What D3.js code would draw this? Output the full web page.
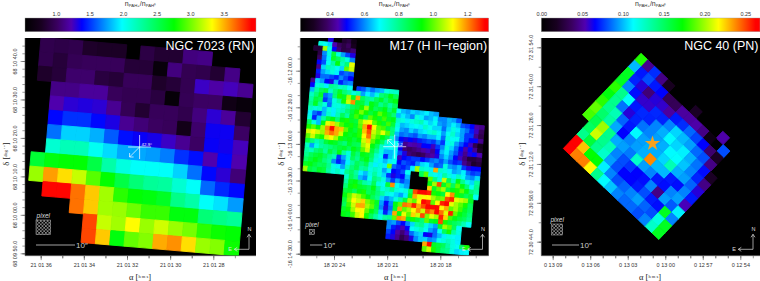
<!DOCTYPE html>
<html>
<head>
<meta charset="utf-8">
<script src="https://cdn.jsdelivr.net/npm/d3@7"></script>
<style>
  html, body { margin: 0; padding: 0; background: #fff; }
  svg { display: block; }
  text { font-family: "Liberation Sans", Arial, sans-serif; }
  .axis text { fill: #333; font-size: 5.5px; }
  .axis line { stroke: #555; stroke-width: 0.6; }
  .axis path { stroke: #555; stroke-width: 0.6; fill: none; }
</style>
</head>
<body>
<div id="chart"></div>
<script>
// colour table of the ratio maps, position along the bar -> colour
var colorStops = [0, 0.07, 0.14, 0.20, 0.246, 0.42, 0.645, 0.81, 0.98, 1];
var colorHex = ["#000000", "#180020", "#3a0060", "#5000b0", "#0000ff", "#00ffff", "#00ff00", "#ffff00", "#ff0000", "#ff0000"];

// NGC 7023, n(PAH+)/n(PAH0), 0 = no data. one row per detector row, top to bottom
var ngc7023Rows = [
  [0.95,0.93,0.95,0.82,0.8,0.8,0,0.92,0.85,0.85,1.1,1.12],
  [0.95,0.88,0.98,1.0,1.0,1.0,0.87,0.87,0.62,1.1,0.97,0.95,0.85,1.12,0],
  [0.82,0.88,1.05,1.05,0.9,0.87,1.0,1.0,0.82,0.87,0.97,1.27,1.2,1.25,1.15],
  [0,1.12,1.12,1.17,1.17,1.0,0.97,0.97,0.9,0.6,0.98,1.03,1.03,0.7,0.62],
  [0,1.22,1.3,1.32,1.3,1.15,0.98,0.85,1.0,1.0,0.95,1.1,1.3,1.17,0.85],
  [0,1.4,1.5,1.5,1.4,1.33,1.15,1.08,1.02,1.0,0.72,1.05,1.36,1.36,1.03],
  [0,1.65,1.88,1.88,1.8,1.6,1.42,1.37,1.34,1.27,1.15,1.03,1.37,1.35,1.25],
  [0,2.12,2.2,2.2,2.02,1.9,1.78,1.78,1.75,1.68,1.5,1.42,1.22,1.4,1.22],
  [2.6,2.72,2.75,2.75,2.55,2.25,2.08,2.0,2.0,2.0,1.88,1.65,1.4,1.3,1.08],
  [3.1,3.55,3.4,3.2,2.95,2.76,2.55,2.4,2.3,2.28,2.12,2.0,1.63,1.48,1.4],
  [0,3.9,3.9,3.65,3.45,3.12,2.85,2.75,2.72,2.65,2.35,2.25,2.0,1.92,1.75],
  [0,0,0,3.65,3.45,3.12,3.1,3.0,2.88,2.88,2.72,2.72,2.4,2.35,2.3],
  [0,0,0,0,3.75,3.2,3.12,3.33,3.1,3.22,3.1,3.02,2.85,2.78,2.75],
  [0,0,0,0,3.75,3.45,2.72,2.98,3.05,3.52,3.58,3.4,3.1,3.05,2.78]
];

// M17, ratio x 100, 0 = no data. m17RowStart is the first column of each row
var m17RowStart = [3,1,0,1,1,1,1,1,1,0,0,0,0,0,0,0,0,0,0,0,0,0,0,0,0,0,0,0,0,9,9,9,9,9,9,9,9,9,19,19,19,19,27,27];
var m17Rows = [
  [48,0,0,33,35,28],
  [72,70,66,45,38,35,38,30],
  [33,33,105,72,50,40,35,36,40],
  [35,60,72,88,72,62,55,48],
  [38,58,68,90,85,78,72,60],
  [50,56,70,78,92,75,82,110],
  [42,66,76,74,70,66,100,108],
  [52,62,66,72,68,55,58,56],
  [48,58,58,55,52,60,55,50],
  [42,66,62,50,48,64,52,58,60],
  [50,72,74,68,80,78,74,76,70,0,54,56,62,58,62,64,72,74,74],
  [64,78,85,88,74,82,90,82,78,72,76,62,68,64,72,82,85,92,85],
  [75,82,90,58,62,82,95,90,105,90,118,85,80,78,85,90,82,88,92],
  [78,88,85,54,60,72,78,95,108,120,90,88,80,92,88,80,85,78,85],
  [80,90,78,72,58,72,72,74,78,85,88,95,105,92,85,88,92,82,90,70,64,62,66,64,66,68,64,62],
  [75,72,74,64,72,68,74,76,82,88,95,102,95,88,92,100,95,88,82,64,68,64,60,72,68,62,64,68,60,60,64,62,56],
  [68,58,54,64,74,68,76,85,78,90,98,92,85,100,95,90,98,90,92,74,72,68,72,74,76,70,66,70,62,60,64,68,64,56,54,50,44,42],
  [72,52,64,78,88,92,82,92,95,90,88,102,110,112,100,95,90,98,88,72,64,66,68,70,68,74,70,66,66,58,66,72,68,62,58,52,46,38],
  [85,72,64,92,110,115,105,98,92,95,90,100,118,130,112,100,98,88,82,70,62,60,66,62,66,68,72,74,70,62,70,74,66,62,54,54,42,36],
  [95,100,92,105,120,130,118,116,100,92,88,96,116,125,108,102,110,100,82,64,58,60,58,56,62,60,64,64,68,58,72,70,70,62,54,50,50,42],
  [108,112,108,104,118,122,118,108,94,90,92,96,112,122,105,98,92,85,74,60,50,48,50,48,52,54,56,54,60,54,68,72,62,56,50,46,36,30],
  [100,108,98,95,108,112,105,95,90,92,88,92,108,115,100,92,85,74,70,70,55,42,45,44,46,50,50,46,54,60,72,66,58,50,44,50,42,32],
  [88,82,76,80,88,92,90,85,82,90,86,85,105,110,92,85,74,68,70,72,50,40,38,40,42,44,46,42,50,64,68,62,56,48,42,48,50,45],
  [75,62,72,78,80,82,85,88,90,85,92,88,100,108,88,80,72,64,64,68,56,48,40,38,36,38,42,44,48,60,66,60,50,46,40,34,34,36],
  [78,75,82,85,78,88,82,92,78,72,88,82,92,90,85,74,70,52,64,70,46,50,52,54,54,50,54,58,60,56,62,56,52,54,42,38,32,34],
  [80,85,88,90,85,80,76,54,62,72,85,80,88,92,82,72,68,64,68,70,50,56,54,52,60,66,68,62,56,58,72,62,60,64,54,48,50,50],
  [84,88,92,88,82,78,60,52,58,68,78,85,82,86,74,68,72,68,102,58,54,52,56,68,105,74,72,68,118,74,72,68,62,64,68,58,54,56],
  [90,92,88,85,86,80,72,68,62,75,82,86,78,80,72,75,72,62,68,50,52,56,70,0,0,85,100,72,70,68,78,72,68,75,70,62,60,66],
  [105,88,85,90,88,78,72,75,70,80,84,78,68,64,72,78,72,66,54,48,52,50,64,0,0,0,0,100,80,72,108,85,75,92,80,72,66,78],
  [74,85,80,64,60,70,82,78,72,62,54,62,55,60,0,0,0,0,92,105,125,90,100,85,100,92,82,70,80],
  [78,90,92,85,78,75,85,72,70,88,120,70,66,62,0,0,0,0,115,90,100,105,88,92,95,100,92,82,78],
  [82,92,95,90,88,85,92,80,72,75,80,72,70,72,85,125,130,130,128,95,92,88,112,120,95,90,85,88,70],
  [88,90,85,92,95,85,88,82,78,72,70,66,62,68,90,118,110,112,112,105,100,102,125,128,110,108,105,90],
  [92,100,108,105,98,92,85,80,66,60,64,72,78,88,105,100,112,130,128,100,112,128,130,110,105,100,95,85],
  [88,102,112,108,115,102,98,90,62,50,60,92,100,122,120,128,118,125,130,130,130,112,118,100,105,98,90,85],
  [85,98,108,118,118,105,100,88,60,48,58,90,118,100,105,112,120,108,125,120,130,122,110,128,100,92,88,82],
  [90,95,105,112,112,100,92,85,66,52,62,118,92,110,100,115,108,125,102,110,105,128,115,98,92,88,85,80],
  [92,90,98,108,112,95,85,78,72,78,80,100,120,118,90,95,88,82,100,90,92,125,95,88,85,82,76,70],
  [60,62,55,50,60,66,78,80,72,66,62,90,105,100,85,70],
  [60,52,48,45,50,70,72,75,70,62,58,70,85,95,78,72],
  [55,50,44,40,46,58,64,66,50,48,58,64,68,72,70,68],
  [52,48,42,36,40,48,60,65,66,60,62,70,72,75,72,68],
  [118,130,90,88,85,78,72,70,85,95],
  [100,108,95,88,82,80,72,66,68,69]
];

// NGC 40, 0 = no data. rows run along the south-east edge of the diamond
var ngc40Rows = [
  [0.178,0.047,0.074,0.045,0.018,0,0,0,0.02,0,0,0,0.052],
  [0.100,0.07,0.08,0.07,0.066,0.035,0.035,0.05,0.05,0.052,0.045,0.01,0,0.08],
  [0.165,0.072,0.06,0.042,0.06,0.058,0.05,0.07,0.074,0.085,0.078,0.066,0.04,0.02],
  [0.165,0.09,0.068,0.058,0.058,0.073,0.072,0.09,0.105,0.1,0.095,0.085,0.08,0.045],
  [0.18,0.14,0.113,0.07,0.073,0.072,0.09,0.098,0.112,0.105,0.11,0.098,0.087,0.068,0.02],
  [0.17,0.14,0.087,0.06,0.072,0.087,0.09,0.095,0.098,0.112,0.113,0.102,0.09,0.072,0.045],
  [0.18,0.14,0.13,0.084,0.07,0.112,0.095,0.098,0.098,0.105,0.13,0.098,0.095,0.084,0.06],
  [0.19,0.148,0.135,0.097,0.066,0.09,0.095,0.098,0.238,0.1,0.1,0.07,0.068,0.09,0.07],
  [0.185,0.155,0.2,0.14,0.097,0.095,0.088,0.125,0.095,0.09,0.07,0.068,0.09,0.095,0.055],
  [0,0.15,0.208,0.14,0.13,0.09,0.08,0.075,0.066,0.068,0.09,0.045,0.095,0.082,0.11],
  [0,0.14,0.16,0.14,0.125,0.095,0.08,0.066,0.066,0.07,0.08,0.07,0.068,0.165,0.09],
  [0,0.263,0.228,0.173,0.172,0.11,0.09,0.08,0.084,0.09,0.095,0.084,0.08,0.12,0.165],
  [0,0.263,0.24,0.24,0.218,0.14,0.112,0.102,0.09,0.085,0.085,0.08,0.09,0.125,0.165]
];

// colour bar ticks
var ngc7023BarTicks = [1.0, 1.5, 2.0, 2.5, 3.0, 3.5];
var m17BarTicks = [0.4, 0.6, 0.8, 1.0, 1.2];
var ngc40BarTicks = [0.00, 0.05, 0.10, 0.15, 0.20, 0.25];

// right ascension ticks, seconds of the label minute
var ngc7023RaTicks = [36, 34, 32, 30, 28];
var ngc7023RaLabels = ["21 01 36", "21 01 34", "21 01 32", "21 01 30", "21 01 28"];
var m17RaTicks = [24, 21, 18];
var m17RaLabels = ["18 20 24", "18 20 21", "18 20 18"];
var ngc40RaTicks = [9, 6, 3, 0, -3, -6];
var ngc40RaLabels = ["0 13 09", "0 13 06", "0 13 03", "0 13 00", "0 12 57", "0 12 54"];

// declination ticks, arc seconds
var ngc7023DecTicks = [40, 30, 20, 10, 0, -10];
var ngc7023DecLabels = ["68 10 40.0", "68 10 30.0", "68 10 20.0", "68 10 10.0", "68 10 00.0", "68 09 50.0"];
var m17DecTicks = [0, -30, -60, -90, -120, -150];
var m17DecLabels = ["-16 12 00.0", "-16 12 30.0", "-16 13 00.0", "-16 13 30.0", "-16 14 00.0", "-16 14 30.0"];
var ngc40DecTicks = [54, 40, 26, 12, -2, -16];
var ngc40DecLabels = ["72 31 54.0", "72 31 40.0", "72 31 26.0", "72 31 12.0", "72 30 58.0", "72 30 44.0"];

var width = 760, height = 281,
    frameTop = 38, frameBottom = 255.7,
    barTop = 18, barHeight = 13.7;

var svg = d3.select("#chart").append("svg")
    .attr("width", width)
    .attr("height", height);

var defs = svg.append("defs");

var gradient = defs.append("linearGradient").attr("id", "barColors");
gradient.selectAll("stop")
    .data(colorStops)
    .enter().append("stop")
      .attr("offset", function(d) { return d; })
      .attr("stop-color", function(d, i) { return colorHex[i]; });

var hatch = defs.append("pattern")
    .attr("id", "pixelHatch")
    .attr("width", 3.4).attr("height", 3.4)
    .attr("patternUnits", "userSpaceOnUse");
hatch.append("path")
    .attr("d", "M0,0L3.4,3.4M3.4,0L0,3.4")
    .attr("stroke", "#bbb")
    .attr("stroke-width", 0.6);

var ratioColor = d3.scaleLinear().domain(colorStops).range(colorHex);

function drawPanel(p) {
  var g = svg.append("g");

  // colour bar
  var barScale = d3.scaleLinear().domain(p.barDomain).range([p.left, p.right]);
  g.append("rect")
      .attr("x", p.left).attr("y", barTop)
      .attr("width", p.right - p.left).attr("height", barHeight)
      .attr("fill", "url(#barColors)")
      .attr("stroke", "#999").attr("stroke-width", 0.4);

  var barAxis = g.append("g")
      .attr("class", "axis")
      .attr("transform", "translate(0," + barTop + ")")
      .call(d3.axisTop(barScale).tickValues(p.barTicks).tickSize(0).tickPadding(2).tickFormat(d3.format(p.barFormat)));
  barAxis.select(".domain").remove();

  var barTitle = g.append("text")
      .attr("x", (p.left + p.right) / 2)
      .attr("y", 5.5)
      .attr("text-anchor", "middle")
      .style("font-size", "7px")
      .style("fill", "#333");
  barTitle.append("tspan").text("n");
  barTitle.append("tspan").attr("dy", 1.2).style("font-size", "4.3px").text("PAH+");
  barTitle.append("tspan").attr("dy", -1.2).text("/n");
  barTitle.append("tspan").attr("dy", 1.2).style("font-size", "4.3px").text("PAH\u2070");

  // map frame
  var clipId = "clip" + p.id;
  defs.append("clipPath").attr("id", clipId).append("rect")
      .attr("x", p.left).attr("y", frameTop)
      .attr("width", p.right - p.left).attr("height", frameBottom - frameTop);

  g.append("rect")
      .attr("x", p.left).attr("y", frameTop)
      .attr("width", p.right - p.left).attr("height", frameBottom - frameTop)
      .attr("fill", "#000");

  // cells, in the rotated frame of the spectrograph
  var cells = [];
  p.rows.forEach(function(row, r) {
    var start = p.rowStart ? p.rowStart[r] : 0;
    row.forEach(function(v, c) {
      if (v > 0) cells.push({ col: start + c, row: r, value: v * p.unit });
    });
  });

  var colCount = d3.max(cells, function(d) { return d.col; }) + 1,
      rowCount = p.rows.length;
  var cellX = d3.scaleLinear().domain([0, colCount]).range([0, colCount * p.cell]),
      cellY = d3.scaleLinear().domain([0, rowCount]).range([0, rowCount * p.cell]);
  var barPos = d3.scaleLinear().domain(p.barDomain).range([0, 1]);

  var map = g.append("g")
      .attr("clip-path", "url(#" + clipId + ")")
    .append("g")
      .attr("transform", "translate(" + p.origin + ") rotate(" + p.angle + ")");

  map.selectAll("rect")
      .data(cells)
      .enter().append("rect")
        .attr("x", function(d) { return cellX(d.col); })
        .attr("y", function(d) { return cellY(d.row); })
        .attr("width", p.cell)
        .attr("height", p.cell)
        .attr("fill", function(d) { return ratioColor(barPos(d.value)); })
        .attr("stroke", function(d) { return ratioColor(barPos(d.value)); })
        .attr("stroke-width", 0.9);

  // axes
  var raScale = d3.scaleLinear().domain(p.raDomain).range(p.raRange);
  var decScale = d3.scaleLinear().domain(p.decDomain).range(p.decRange);

  var decMinor = d3.range(d3.min(p.decTicks), decScale.invert(frameTop), p.decStep)
      .concat(d3.range(d3.min(p.decTicks), decScale.invert(frameBottom), -p.decStep));
  var raMinor = p.raTicks.flatMap(function(t) {
    return d3.range(t + p.raMajor, t - p.raMajor, -p.raStep);
  }).filter(function(t) { return raScale(t) > p.left && raScale(t) < p.right; });

  g.append("g")
      .attr("class", "axis")
      .attr("transform", "translate(0," + frameBottom + ")")
      .call(d3.axisBottom(raScale).tickValues(raMinor).tickSize(2.6).tickFormat(""))
      .select(".domain").attr("d", "M" + p.left + ",0H" + p.right);

  g.append("g")
      .attr("class", "axis")
      .attr("transform", "translate(0," + frameBottom + ")")
      .call(d3.axisBottom(raScale).tickValues(p.raTicks).tickSize(4.4).tickPadding(3)
        .tickFormat(function(d, i) { return p.raLabels[i]; }))
      .select(".domain").remove();

  g.append("g")
      .attr("class", "axis")
      .attr("transform", "translate(" + p.left + ",0)")
      .call(d3.axisLeft(decScale).tickValues(decMinor.filter(function(t) {
        return decScale(t) >= frameTop && decScale(t) <= frameBottom;
      })).tickSize(2.6).tickFormat(""))
      .select(".domain").attr("d", "M0," + frameTop + "V" + frameBottom);

  var decAxis = g.append("g")
      .attr("class", "axis")
      .attr("transform", "translate(" + p.left + ",0)")
      .call(d3.axisLeft(decScale).tickValues(p.decTicks).tickSize(4.4)
        .tickFormat(function(d, i) { return p.decLabels[i]; }));
  decAxis.select(".domain").remove();
  decAxis.selectAll("text")
      .attr("transform", "rotate(-90)")
      .attr("x", 0)
      .attr("y", -8)
      .attr("dy", 0)
      .style("text-anchor", "middle");

  // axis titles
  var raTitle = g.append("text")
      .attr("x", p.raTitleX).attr("y", 279.5)
      .attr("text-anchor", "middle")
      .style("font-family", "'Liberation Serif', serif")
      .style("font-size", "8.5px")
      .style("fill", "#222");
  raTitle.append("tspan").text("\u03b1 [");
  raTitle.append("tspan").attr("dy", -2).style("font-size", "4.5px").text("h m s");
  raTitle.append("tspan").attr("dy", 2).text("]");

  var decTitle = g.append("text")
      .attr("transform", "translate(" + p.decTitleX + ",154) rotate(-90)")
      .attr("text-anchor", "middle")
      .style("font-family", "'Liberation Serif', serif")
      .style("font-size", "8.5px")
      .style("fill", "#222");
  decTitle.append("tspan").text("\u03b4 [");
  decTitle.append("tspan").attr("dy", -2).style("font-size", "4.5px").text("deg \u2032 \u2033");
  decTitle.append("tspan").attr("dy", 2).text("]");

  // object name
  g.append("text")
      .attr("x", p.right - 1.5)
      .attr("y", 50)
      .attr("text-anchor", "end")
      .style("font-size", "12.5px")
      .style("fill", "#fff")
      .text(p.title);

  // pixel symbol
  g.append("text")
      .attr("x", p.pixelX + p.pixelSize / 2)
      .attr("y", p.pixelY - 2.5)
      .attr("text-anchor", "middle")
      .style("font-size", "6.5px")
      .style("font-style", "italic")
      .style("fill", "#ddd")
      .text("pixel");
  g.append("rect")
      .attr("x", p.pixelX).attr("y", p.pixelY)
      .attr("width", p.pixelSize).attr("height", p.pixelSize)
      .attr("fill", "url(#pixelHatch)")
      .attr("stroke", "#bbb")
      .attr("stroke-width", 0.5);

  // 10 arc second bar
  g.append("line")
      .attr("x1", p.scaleBar[0]).attr("x2", p.scaleBar[1])
      .attr("y1", 245).attr("y2", 245)
      .attr("stroke", "#ccc").attr("stroke-width", 0.8);
  g.append("text")
      .attr("x", p.scaleBar[1] + 1)
      .attr("y", 248)
      .style("font-size", "8px")
      .style("fill", "#ccc")
      .text("10\u2033");

  // north and east
  var cx = p.compassX, cy = 249.3;
  g.append("path")
      .attr("d", "M" + (cx - 14.7) + "," + cy + "H" + cx + "V" + (cy - 15) +
        "M" + (cx - 2) + "," + (cy - 12) + "L" + cx + "," + (cy - 15) + "L" + (cx + 2) + "," + (cy - 12) +
        "M" + (cx - 11.7) + "," + (cy - 2) + "L" + (cx - 14.7) + "," + cy + "L" + (cx - 11.7) + "," + (cy + 2))
      .attr("fill", "none")
      .attr("stroke", "#ddd")
      .attr("stroke-width", 0.7);
  g.append("text").attr("x", cx + 0.5).attr("y", 231).attr("text-anchor", "middle")
      .style("font-size", "5.5px").style("fill", "#ddd").text("N");
  g.append("text").attr("x", cx - 19).attr("y", 251).attr("text-anchor", "middle")
      .style("font-size", "5.5px").style("fill", "#ddd").text("E");

  // slit direction cross
  if (p.cross) {
    var c = p.cross;
    g.append("path")
        .attr("d", "M" + c.x + "," + (c.y - 12) + "V" + (c.y + 12) +
          "M" + (c.x - 11.5) + "," + c.y + "H" + (c.x + 11.5) +
          "M" + c.x + "," + c.y + "L" + (c.x + c.dx) + "," + (c.y + c.dy))
        .attr("fill", "none")
        .attr("stroke", "#fff")
        .attr("stroke-width", 0.7);
    var ax = c.x + c.dx, ay = c.y + c.dy, sx = c.dx > 0 ? 1 : -1, sy = c.dy > 0 ? 1 : -1;
    g.append("path")
        .attr("d", "M" + (ax - sx * 4) + "," + ay + "L" + ax + "," + ay + "L" + ax + "," + (ay - sy * 4))
        .attr("fill", "none")
        .attr("stroke", "#fff")
        .attr("stroke-width", 0.7);
    g.append("text")
        .attr("x", c.x + 2)
        .attr("y", c.y - 1)
        .style("font-size", "4.4px")
        .style("fill", "#fff")
        .text(c.label);
  }

  if (p.star) {
    g.append("path")
        .attr("transform", "translate(" + p.star + ")")
        .attr("d", d3.symbol(d3.symbolStar, 72))
        .attr("fill", "#f7a11e");
  }
}

drawPanel({
  id: 1, title: "NGC 7023 (RN)",
  left: 25, right: 256,
  barDomain: [0.54, 3.98], barTicks: ngc7023BarTicks, barFormat: ".1f",
  rows: ngc7023Rows, unit: 1, cell: 14.35, angle: 4.9, origin: [41, 37.4],
  raDomain: [36, 28], raRange: [40.7, 213.3], raTicks: ngc7023RaTicks, raLabels: ngc7023RaLabels, raStep: 1, raMajor: 2,
  decDomain: [40, -10], decRange: [61, 253.3], decTicks: ngc7023DecTicks, decLabels: ngc7023DecLabels, decStep: 2,
  raTitleX: 140, decTitleX: 9,
  pixelX: 36, pixelY: 220, pixelSize: 14.6, scaleBar: [36, 75], compassX: 249,
  cross: { x: 139.6, y: 147, dx: -10, dy: 10, label: "42.9\u00b0" }
});

drawPanel({
  id: 2, title: "M17 (H II\u2212region)",
  left: 300.3, right: 488.7,
  barDomain: [0.23, 1.325], barTicks: m17BarTicks, barFormat: ".1f",
  rows: m17Rows, rowStart: m17RowStart, unit: 0.01, cell: 4.65, angle: 5, origin: [314.8, 36.3],
  raDomain: [24, 18], raRange: [334, 440.3], raTicks: m17RaTicks, raLabels: m17RaLabels, raStep: 1, raMajor: 3,
  decDomain: [0, -150], decRange: [70.7, 253.7], decTicks: m17DecTicks, decLabels: m17DecLabels, decStep: 10,
  raTitleX: 395, decTitleX: 284,
  pixelX: 309.5, pixelY: 229.5, pixelSize: 5, scaleBar: [310, 322.3], compassX: 482.5,
  cross: { x: 394.7, y: 146.7, dx: -7, dy: -7, label: "3.2" }
});

drawPanel({
  id: 3, title: "NGC 40 (PN)",
  left: 541.3, right: 760,
  barDomain: [0, 0.268], barTicks: ngc40BarTicks, barFormat: ".2f",
  rows: ngc40Rows, unit: 1, cell: 9.42, angle: 43.6, origin: [640.94, 53.34],
  raDomain: [9, -6], raRange: [552.7, 740.3], raTicks: ngc40RaTicks, raLabels: ngc40RaLabels, raStep: 1, raMajor: 3,
  decDomain: [54, -16], decRange: [47.3, 241.7], decTicks: ngc40DecTicks, decLabels: ngc40DecLabels, decStep: 7,
  raTitleX: 650, decTitleX: 525,
  pixelX: 551.7, pixelY: 224, pixelSize: 11, scaleBar: [552, 579], compassX: 753,
  star: [652.5, 143.5]
});
</script>
</body>
</html>
